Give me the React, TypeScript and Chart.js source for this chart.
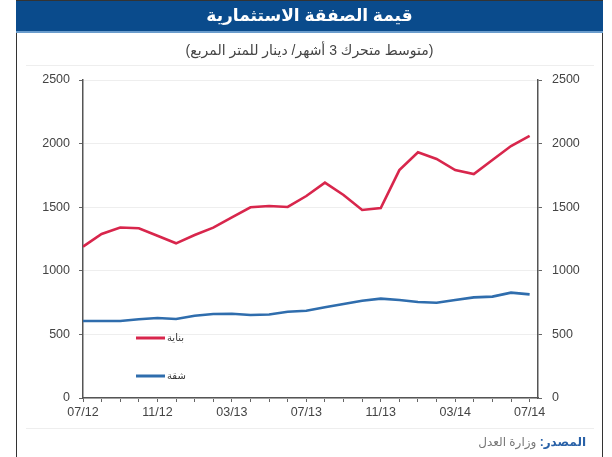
import React, { useEffect, useRef } from "react";
import { Chart, registerables } from "chart.js";

Chart.register(...registerables);

const months = ["07/12","08/12","09/12","10/12","11/12","12/12","01/13","02/13","03/13","04/13","05/13","06/13","07/13","08/13","09/13","10/13","11/13","12/13","01/14","02/14","03/14","04/14","05/14","06/14","07/14"];
const buildingValues = [1190,1290,1340,1335,1276,1216,1281,1339,1420,1499,1509,1502,1588,1693,1596,1478,1494,1792,1932,1879,1792,1761,1871,1981,2060];
const apartmentValues = [605,605,605,619,629,621,647,660,662,652,657,678,686,713,739,765,781,770,755,749,770,791,797,828,815];
const yTicks = [0,500,1000,1500,2000,2500];
const legendBuilding = "بناية";
const legendApartment = "شقة";
const titleText = "قيمة الصفقة الاستثمارية";
const subtitleText = "(متوسط متحرك 3 أشهر/ دينار للمتر المربع)";
const sourceLabel = "المصدر:";
const sourceText = " وزارة العدل";

const RED = "#d8264c";
const BLUE = "#2f6dad";
const FONT = "'Liberation Sans', Arial, 'DejaVu Sans', sans-serif";

export default function App() {
  const ref = useRef<HTMLCanvasElement | null>(null);

  useEffect(() => {
    if (!ref.current) return;
    const legendPlugin = {
      id: "inlineLegend",
      afterDatasetsDraw(chart: any) {
        const ctx = chart.ctx;
        const items = [
          { label: legendBuilding, color: RED, y: 338 },
          { label: legendApartment, color: BLUE, y: 376 },
        ];
        ctx.save();
        for (const it of items) {
          ctx.strokeStyle = it.color;
          ctx.lineWidth = 3;
          ctx.beginPath();
          ctx.moveTo(136, it.y);
          ctx.lineTo(165, it.y);
          ctx.stroke();
          ctx.fillStyle = "#333";
          ctx.font = "10px " + FONT;
          ctx.textAlign = "left";
          ctx.textBaseline = "middle";
          ctx.fillText(it.label, 167, it.y);
        }
        ctx.restore();
      },
    };

    const yLabel = (v: any) => String(v);

    const chart = new Chart(ref.current, {
      type: "line",
      data: {
        datasets: [
          {
            label: legendBuilding,
            data: buildingValues.map((v, i) => ({ x: i, y: v })),
            borderColor: RED,
            borderWidth: 2.6,
            pointRadius: 0,
            tension: 0,
            yAxisID: "y",
          },
          {
            label: legendApartment,
            data: apartmentValues.map((v, i) => ({ x: i, y: v })),
            borderColor: BLUE,
            borderWidth: 2.6,
            pointRadius: 0,
            tension: 0,
            yAxisID: "y",
          },
        ],
      },
      options: {
        animation: false,
        responsive: false,
        layout: { padding: { top: 80, left: 0, right: 0, bottom: 0 } },
        plugins: { legend: { display: false }, tooltip: { enabled: false } },
        scales: {
          x: {
            type: "linear",
            min: 0,
            max: 24.45,
            afterFit: (s: any) => { s.height = 59; },
            ticks: {
              stepSize: 1,
              autoSkip: false,
              includeBounds: false,
              maxRotation: 0,
              padding: 3,
              color: "#444",
              font: { size: 12.5, family: FONT },
              callback: (v: any) => {
                const i = Number(v);
                return Number.isInteger(i) && i % 4 === 0 ? months[i] : "";
              },
            },
            grid: { drawOnChartArea: false, drawTicks: true, tickLength: 4, tickColor: "#666" },
            border: { display: true, color: "#555", width: 1.5 },
          },
          y: {
            position: "left",
            min: 0,
            max: 2500,
            afterFit: (s: any) => { s.width = 83; },
            afterBuildTicks: (s: any) => { s.ticks = yTicks.map((v) => ({ value: v })); },
            ticks: { padding: 9, color: "#444", font: { size: 12.5, family: FONT }, callback: yLabel },
            grid: { color: "#eeeeee", tickLength: 4, tickColor: "#666", lineWidth: 1 },
            border: { display: true, color: "#555", width: 1.5 },
          },
          y2: {
            position: "right",
            display: true,
            min: 0,
            max: 2500,
            afterFit: (s: any) => { s.width = 74; },
            afterBuildTicks: (s: any) => { s.ticks = yTicks.map((v) => ({ value: v })); },
            ticks: { padding: 10, color: "#444", font: { size: 12.5, family: FONT }, callback: yLabel },
            grid: { drawOnChartArea: false, tickLength: 4, tickColor: "#666" },
            border: { display: true, color: "#555", width: 1.5 },
          },
        },
      },
      plugins: [legendPlugin],
    } as any);
    return () => chart.destroy();
  }, []);

  return (
    <div style={{ position: "fixed", left: 0, top: 0, width: 612, height: 457, background: "#fff", overflow: "hidden", fontFamily: FONT }}>
      <canvas ref={ref} width={612} height={457} style={{ position: "absolute", left: 0, top: 0, width: 612, height: 457 }} />
      <div style={{ position: "absolute", left: 16, top: 0, width: 587, height: 457, borderLeft: "1px solid #333", borderRight: "1px solid #333", borderTop: "1px solid #333", boxSizing: "border-box", pointerEvents: "none" }} />
      <div style={{ position: "absolute", left: 16, top: 1, width: 587, height: 32, background: "#0a4b8c", borderBottom: "2px solid #6a9ccc", boxSizing: "border-box", color: "#fff", fontWeight: "bold", fontSize: 17, lineHeight: "30px", textAlign: "center", direction: "rtl" }}>{titleText}</div>
      <div style={{ position: "absolute", left: 16, top: 40, width: 587, height: 20, color: "#444", fontSize: 14, lineHeight: "20px", textAlign: "center", direction: "rtl" }}>{subtitleText}</div>
      <div style={{ position: "absolute", left: 26, top: 65, width: 568, height: 1, background: "#eeeeee" }} />
      <div style={{ position: "absolute", left: 26, top: 428, width: 568, height: 1, background: "#eeeeee" }} />
      <div style={{ position: "absolute", right: 26, top: 433, height: 18, fontSize: 12, lineHeight: "18px", direction: "rtl", whiteSpace: "nowrap" }}>
        <span style={{ color: "#2a62a8", fontWeight: "bold" }}>{sourceLabel}</span>
        <span style={{ color: "#777" }}>{sourceText}</span>
      </div>
    </div>
  );
}
